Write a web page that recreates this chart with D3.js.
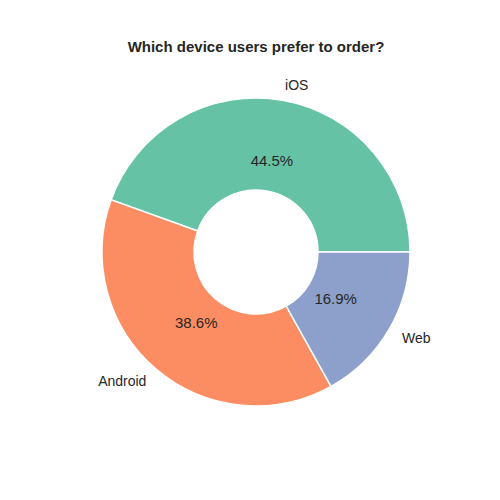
<!DOCTYPE html>
<html>
<head>
  <meta charset="utf-8">
  <script src="https://d3js.org/d3.v7.min.js"></script>
  <style>body{margin:0;background:#fff;}</style>
</head>
<body>
<script>
var w = 500, h = 500;

var labels = ["iOS", "Android", "Web"];
var shares = [44.5, 38.6, 16.9];
var colors = ["#66c2a5", "#fc8d62", "#8da0cb"];

var cx = 256, cy = 252, r = 154, r0 = 62;

var svg = d3.select("body").append("svg").attr("width", w).attr("height", h);

svg.append("text")
  .attr("x", 256).attr("y", 52)
  .attr("text-anchor", "middle")
  .attr("font-family", "Liberation Sans, Arial, sans-serif")
  .attr("font-size", "15px").attr("font-weight", "bold")
  .attr("fill", "#262626")
  .text("Which device users prefer to order?");

// matplotlib style: start at 3 o'clock, go counterclockwise
var pie = d3.pie().sort(null).startAngle(Math.PI / 2).endAngle(Math.PI / 2 - 2 * Math.PI);
var arcs = pie(shares);
var arc = d3.arc().innerRadius(r0).outerRadius(r);

var g = svg.append("g").attr("transform", "translate(" + cx + "," + cy + ")");

g.selectAll("path")
  .data(arcs)
  .enter().append("path")
  .attr("d", arc)
  .attr("fill", function(d, i){ return colors[i]; })
  .attr("stroke", "#fff")
  .attr("stroke-width", 1.5);

function mid(d){ return (d.startAngle + d.endAngle) / 2; }

g.selectAll(".lab")
  .data(arcs)
  .enter().append("text")
  .attr("x", function(d){ return 1.1 * r * Math.sin(mid(d)); })
  .attr("y", function(d){ return -1.1 * r * Math.cos(mid(d)); })
  .attr("dy", "0.35em")
  .attr("text-anchor", function(d){ return Math.sin(mid(d)) > 0 ? "start" : "end"; })
  .attr("font-family", "Liberation Sans, Arial, sans-serif")
  .attr("font-size", "14px").attr("fill", "#262626")
  .text(function(d, i){ return labels[i]; });

g.selectAll(".pct")
  .data(arcs)
  .enter().append("text")
  .attr("x", function(d){ return 0.6 * r * Math.sin(mid(d)); })
  .attr("y", function(d){ return -0.6 * r * Math.cos(mid(d)); })
  .attr("dy", "0.35em")
  .attr("text-anchor", "middle")
  .attr("font-family", "Liberation Sans, Arial, sans-serif")
  .attr("font-size", "15px").attr("fill", "#262626")
  .text(function(d, i){ return shares[i].toFixed(1) + "%"; });
</script>
</body>
</html>
